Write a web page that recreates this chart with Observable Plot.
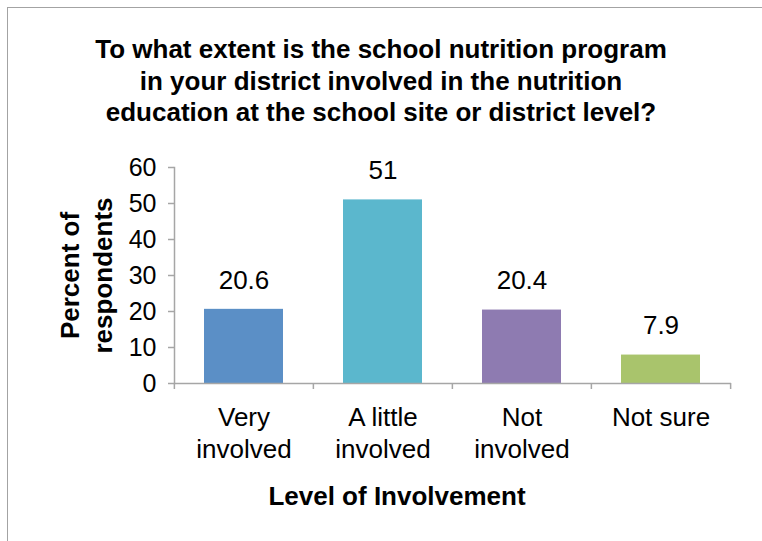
<!DOCTYPE html>
<html>
<head>
<meta charset="utf-8">
<script src="https://cdn.jsdelivr.net/npm/d3@7"></script>
<script src="https://cdn.jsdelivr.net/npm/@observablehq/plot@0.6"></script>
<style>
  html, body { margin: 0; padding: 0; background: #fff; overflow: hidden; }
  #wrap { position: relative; width: 762px; height: 541px; overflow: hidden; font-family: "Liberation Sans", Arial, sans-serif; }
  #border { position: absolute; left: 7px; top: 7px; width: 900px; height: 900px; border-left: 1.5px solid #a3a3a3; border-top: 1.5px solid #a3a3a3; }
  #title { position: absolute; left: 0; top: 34px; width: 762px; text-align: center; font-weight: bold; font-size: 26px; line-height: 31.5px; color: #000; }
  #chart { position: absolute; left: 0; top: 140px; }
</style>
</head>
<body>
<div id="wrap">
  <div id="border"></div>
  <div id="title"></div>
  <div id="chart"></div>
</div>
<script>
const titleLines = [
  "To what extent is the school nutrition program",
  "in your district involved in the nutrition",
  "education at the school site or district level?"
];
const categories = ["Very involved", "A little involved", "Not involved", "Not sure"];
const categoryLabels = ["Very\ninvolved", "A little\ninvolved", "Not\ninvolved", "Not sure"];
const values = [20.6, 51, 20.4, 7.9];
const valueLabels = ["20.6", "51", "20.4", "7.9"];
const barColors = ["#5b8fc6", "#5bb7cd", "#8e7bb1", "#a9c46c"];
const yTicks = [0, 10, 20, 30, 40, 50, 60];
const xTitle = "Level of Involvement";
const yTitle = "Percent of\nrespondents";

document.getElementById("title").innerHTML = titleLines.join("<br>");

const data = categories.map((c, i) => ({cat: c, value: values[i], label: valueLabels[i]}));
const labelOf = new Map(categories.map((c, i) => [c, categoryLabels[i]]));

const W = 762, H = 401, ML = 174, MR = 31, MT = 27, MB = 158;
const step = (W - ML - MR) / categories.length;
const gray = "#a6a6a6";
const FS = 25;

const chart = Plot.plot({
  width: W,
  height: H,
  marginLeft: ML,
  marginRight: MR,
  marginTop: MT,
  marginBottom: MB,
  style: {fontFamily: "'Liberation Sans', Arial, sans-serif", fontSize: FS + "px", color: "#000", background: "transparent", overflow: "visible"},
  x: {domain: categories, paddingInner: 0.43, paddingOuter: 0.215, axis: null},
  y: {domain: [0, 60], axis: null},
  color: {domain: categories, range: barColors},
  marks: [
    Plot.barY(data, {x: "cat", y: "value", fill: "cat"}),
    Plot.ruleY([0], {stroke: gray, strokeWidth: 1.5}),
    Plot.frame({anchor: "left", stroke: gray, strokeWidth: 1.5}),
    Plot.axisY({ticks: yTicks, tickSize: 6, tickPadding: 12, stroke: gray, strokeWidth: 1.5, fill: "#000", fontSize: FS, label: null}),
    Plot.axisX({tickSize: 6, tickFormat: null, dx: -step / 2, stroke: gray, strokeWidth: 1.5, label: null}),
    Plot.axisX({ticks: [categories[categories.length - 1]], tickSize: 6, tickFormat: null, dx: step / 2, stroke: gray, strokeWidth: 1.5, label: null}),
    Plot.axisX({tickSize: 0, tickPadding: 20, tickFormat: d => labelOf.get(d), fill: "#000", fontSize: FS + 1, lineHeight: 1.23, label: null}),
    Plot.text(data, {x: "cat", y: "value", text: "label", dy: -29, fontSize: FS + 1, fill: "#000"}),
    Plot.text([xTitle], {frameAnchor: "bottom", text: d => d, dx: -56, dy: 121, fontSize: 26, fontWeight: "bold", fill: "#000"}),
    Plot.text([yTitle], {frameAnchor: "left", text: d => d, rotate: -90, dx: -90, textAnchor: "middle", lineAnchor: "middle", lineHeight: 1.28, fontSize: 26, fontWeight: "bold", fill: "#000"})
  ]
});
document.getElementById("chart").appendChild(chart);
</script>
</body>
</html>
